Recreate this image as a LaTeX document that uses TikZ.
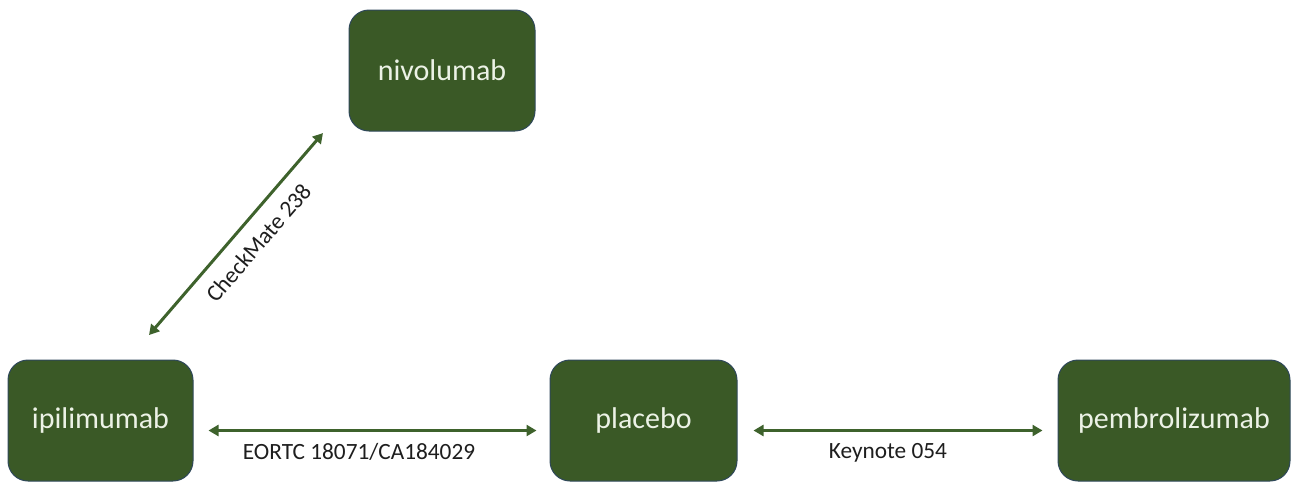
\documentclass[tikz,border=0pt]{standalone}
\usepackage{fontspec}
\setmainfont{Carlito}
\usetikzlibrary{arrows.meta}
\definecolor{boxgreen}{RGB}{58,89,38}
\definecolor{boxedge}{RGB}{47,72,90}
\definecolor{arrowgreen}{RGB}{62,98,44}
\definecolor{boxtext}{RGB}{236,242,230}
\definecolor{labtext}{RGB}{30,30,30}
\begin{document}
\begin{tikzpicture}[x=1pt,y=-1pt,
  drug/.style={rectangle, rounded corners=20pt, fill=boxgreen, draw=boxedge, line width=1pt,
    text=boxtext, font=\fontsize{30}{36}\selectfont, minimum height=121pt, inner sep=0pt},
  link/.style={arrowgreen, line width=3pt,
    {Triangle[length=10pt,width=11pt]}-{Triangle[length=10pt,width=11pt]}},
  lab/.style={font=\fontsize{23.3}{28}\selectfont, text=labtext}]
\useasboundingbox (0,0) rectangle (1293,482);
\node[drug, minimum width=186pt] (niv) at (442,70.5) {nivolumab};
\node[drug, minimum width=185pt] (ipi) at (100.5,420.5) {ipilimumab};
\node[drug, minimum width=187pt] (plc) at (643.5,420.5) {placebo};
\node[drug, minimum width=232pt] (pem) at (1174,420.5) {pembrolizumab};
\coordinate (cmA) at (149,335);
\coordinate (cmB) at (323,133);
\draw[link, shorten <=15pt, shorten >=13pt] ([yshift=-10pt]ipi.east) -- node[lab, anchor=north, inner sep=11pt, pos=0.465] {EORTC 18071/CA184029} ([yshift=-10pt]plc.west);
\draw[link, shorten <=16pt, shorten >=15pt] ([yshift=-10pt]plc.east) -- node[lab, anchor=north, inner sep=11pt, pos=0.47] {Keynote 054} ([yshift=-10pt]pem.west);
\draw[link] (cmA) -- node[lab, sloped, below, inner sep=13pt, pos=0.53] {CheckMate 238} (cmB);
\end{tikzpicture}
\end{document}
